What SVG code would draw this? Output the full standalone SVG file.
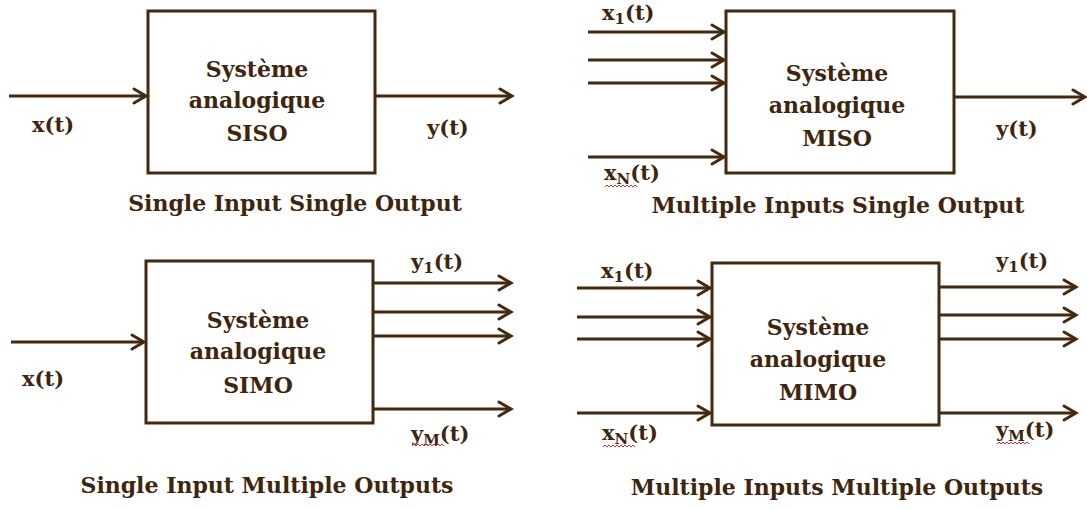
<svg xmlns="http://www.w3.org/2000/svg" width="1087" height="509" viewBox="0 0 1087 509">
<style>
  .box{fill:#ffffff;stroke:#45290f;stroke-width:3}
  .t{font-family:"DejaVu Serif","Liberation Serif",serif;font-weight:bold;font-size:22px;fill:#3f250c;text-anchor:middle}
  .lbl{font-family:"DejaVu Serif","Liberation Serif",serif;font-weight:bold;font-size:21px;fill:#3f250c}
  .sub{font-size:15px}
  .cap{font-family:"DejaVu Serif","Liberation Serif",serif;font-weight:bold;font-size:22px;fill:#3f250c;text-anchor:middle}
  .c{stroke:#45290f;stroke-width:3;fill:none;marker-end:url(#ah)}
  .sq{stroke:#e02828;stroke-width:1;fill:none}
</style>
<defs>
  <marker id="ah" markerUnits="userSpaceOnUse" viewBox="-3 -3 20 20" markerWidth="20" markerHeight="20" refX="12" refY="7" orient="auto">
    <path d="M0,0 L12,7 L0,14" fill="none" stroke="#45290f" stroke-width="3" stroke-linecap="round" stroke-linejoin="miter"/>
  </marker>
</defs>
<rect width="1087" height="509" fill="#ffffff"/>

<g id="siso">
  <rect class="box" x="148" y="11" width="227" height="162"/>
  <text class="t" x="257" y="77">Système</text>
  <text class="t" x="257" y="108">analogique</text>
  <text class="t" x="257" y="141">SISO</text>
</g>
<g id="miso">
  <rect class="box" x="726" y="11" width="228" height="162"/>
  <text class="t" x="837" y="81">Système</text>
  <text class="t" x="837" y="113">analogique</text>
  <text class="t" x="837" y="146">MISO</text>
</g>
<g id="simo">
  <rect class="box" x="146" y="261" width="227" height="162"/>
  <text class="t" x="258" y="328">Système</text>
  <text class="t" x="258" y="359">analogique</text>
  <text class="t" x="258" y="393">SIMO</text>
</g>
<g id="mimo">
  <rect class="box" x="712" y="263" width="227" height="162"/>
  <text class="t" x="818" y="335">Système</text>
  <text class="t" x="818" y="367">analogique</text>
  <text class="t" x="818" y="400">MIMO</text>
</g>

<g id="connectors">
  <line class="c" x1="9" y1="96" x2="146" y2="96"/>
  <line class="c" x1="375" y1="96" x2="512" y2="96"/>

  <line class="c" x1="588" y1="32" x2="724" y2="32"/>
  <line class="c" x1="588" y1="60" x2="724" y2="60"/>
  <line class="c" x1="588" y1="83" x2="724" y2="83"/>
  <line class="c" x1="588" y1="157" x2="724" y2="157"/>
  <line class="c" x1="954" y1="97" x2="1085" y2="97"/>

  <line class="c" x1="11" y1="342" x2="144" y2="342"/>
  <line class="c" x1="373" y1="283" x2="511" y2="283"/>
  <line class="c" x1="373" y1="312" x2="511" y2="312"/>
  <line class="c" x1="373" y1="336" x2="511" y2="336"/>
  <line class="c" x1="373" y1="409" x2="511" y2="409"/>

  <line class="c" x1="577" y1="288" x2="710" y2="288"/>
  <line class="c" x1="577" y1="317" x2="710" y2="317"/>
  <line class="c" x1="577" y1="339" x2="710" y2="339"/>
  <line class="c" x1="577" y1="413" x2="710" y2="413"/>
  <line class="c" x1="939" y1="287" x2="1076" y2="287"/>
  <line class="c" x1="939" y1="315" x2="1076" y2="315"/>
  <line class="c" x1="939" y1="339" x2="1076" y2="339"/>
  <line class="c" x1="939" y1="413" x2="1076" y2="413"/>
</g>

<g id="labels">
  <text class="lbl" x="32" y="132">x(t)</text>
  <text class="lbl" x="427" y="135">y(t)</text>

  <text class="lbl" x="602" y="20">x<tspan class="sub" dy="4">1</tspan><tspan dy="-4">(t)</tspan></text>
  <text class="lbl" x="604" y="180">x<tspan class="sub" dy="4">N</tspan><tspan dy="-4">(t)</tspan></text>
  <text class="lbl" x="996" y="136">y(t)</text>

  <text class="lbl" x="22" y="386">x(t)</text>
  <text class="lbl" x="411" y="269">y<tspan class="sub" dy="4">1</tspan><tspan dy="-4">(t)</tspan></text>
  <text class="lbl" x="411" y="441">y<tspan class="sub" dy="4">M</tspan><tspan dy="-4">(t)</tspan></text>

  <text class="lbl" x="601" y="278">x<tspan class="sub" dy="4">1</tspan><tspan dy="-4">(t)</tspan></text>
  <text class="lbl" x="602" y="440">x<tspan class="sub" dy="4">N</tspan><tspan dy="-4">(t)</tspan></text>
  <text class="lbl" x="996" y="268">y<tspan class="sub" dy="4">1</tspan><tspan dy="-4">(t)</tspan></text>
  <text class="lbl" x="996" y="437">y<tspan class="sub" dy="4">M</tspan><tspan dy="-4">(t)</tspan></text>

  <path class="sq" d="M605,187 l2,-2 l2,2 l2,-2 l2,2 l2,-2 l2,2 l2,-2 l2,2 l2,-2 l2,2 l2,-2 l2,2 l2,-2 l2,2 l2,-2 l2,2"/>
  <path class="sq" d="M412,446 l2,-2 l2,2 l2,-2 l2,2 l2,-2 l2,2 l2,-2 l2,2 l2,-2 l2,2 l2,-2 l2,2 l2,-2 l2,2 l2,-2 l2,2"/>
  <path class="sq" d="M603,447 l2,-2 l2,2 l2,-2 l2,2 l2,-2 l2,2 l2,-2 l2,2 l2,-2 l2,2 l2,-2 l2,2 l2,-2 l2,2 l2,-2 l2,2"/>
  <path class="sq" d="M997,444 l2,-2 l2,2 l2,-2 l2,2 l2,-2 l2,2 l2,-2 l2,2 l2,-2 l2,2 l2,-2 l2,2 l2,-2 l2,2 l2,-2 l2,2"/>

  <text class="cap" x="295" y="211">Single Input Single Output</text>
  <text class="cap" x="838" y="213">Multiple Inputs Single Output</text>
  <text class="cap" x="267" y="493">Single Input Multiple Outputs</text>
  <text class="cap" x="837" y="495">Multiple Inputs Multiple Outputs</text>
</g>
</svg>
